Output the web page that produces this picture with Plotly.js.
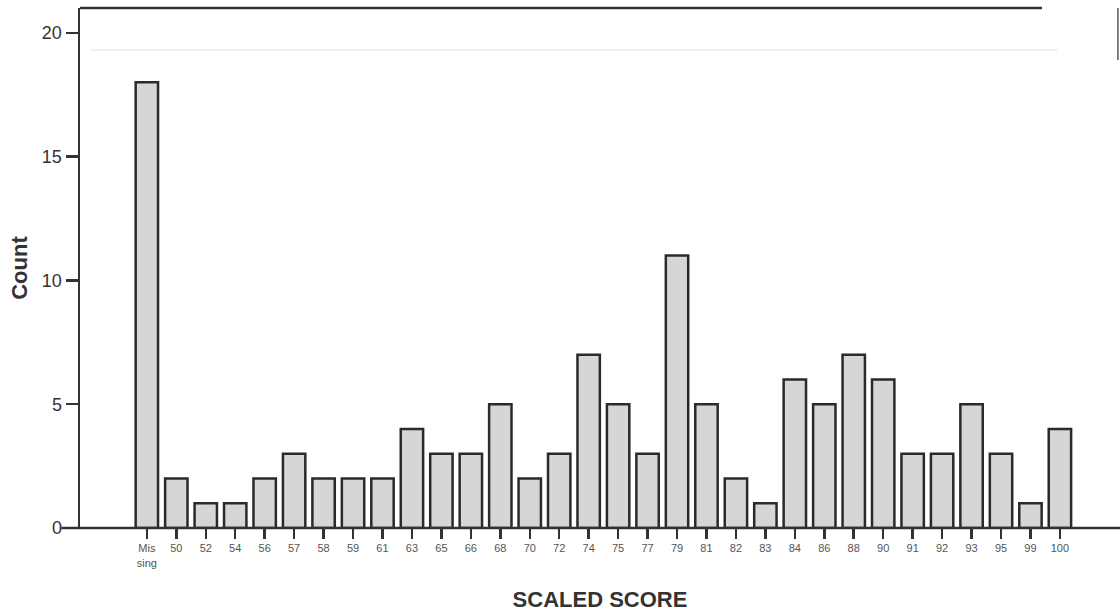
<!DOCTYPE html>
<html>
<head>
<meta charset="utf-8">
<script src="https://cdn.plot.ly/plotly-3.0.1.min.js"></script>
<style>html,body{margin:0;padding:0;background:#fff}#chart{width:1120px;height:616px}</style>
</head>
<body>
<div id="chart"></div>
<script>
const categories = ["Missing","50","52","54","56","57","58","59","61","63","65","66","68","70","72","74","75","77","79","81","82","83","84","86","88","90","91","92","93","95","99","100"];
const tickLabels = ["Mis<br>sing","50","52","54","56","57","58","59","61","63","65","66","68","70","72","74","75","77","79","81","82","83","84","86","88","90","91","92","93","95","99","100"];
const counts = [18,2,1,1,2,3,2,2,2,4,3,3,5,2,3,7,5,3,11,5,2,1,6,5,7,6,3,3,5,3,1,4];
const yTicks = [0,5,10,15,20];

const trace = {
  type: 'bar',
  x: categories,
  y: counts,
  width: 0.76,
  marker: {color: '#d6d6d6', line: {color: '#2a2a2a', width: 2.5}},
  hoverinfo: 'x+y'
};

const layout = {
  width: 1120, height: 616,
  margin: {l: 80, r: 0, t: 8, b: 88},
  paper_bgcolor: '#fff', plot_bgcolor: '#fff',
  showlegend: false,
  font: {family: 'Liberation Sans, Arial, sans-serif', color: '#333'},
  xaxis: {
    type: 'category',
    range: [-2.27, 33.04],
    tickvals: categories,
    ticktext: tickLabels,
    ticks: 'outside', ticklen: 10, tickwidth: 2.5, tickcolor: '#333',
    tickfont: {size: 11, color: '#555'},
    showline: false, showgrid: false, zeroline: false,
    title: {text: '<b>SCALED SCORE</b>', font: {size: 22, color: '#333'}, standoff: 24}
  },
  yaxis: {
    range: [0, 21],
    tickvals: yTicks,
    ticks: 'outside', ticklen: 12, tickwidth: 2.5, tickcolor: '#333',
    tickfont: {size: 18, color: '#333'},
    showline: true, linecolor: '#333', linewidth: 2.5,
    showgrid: false, zeroline: false,
    title: {text: '<b>Count</b>', font: {size: 22, color: '#333'}, standoff: 8}
  },
  shapes: [
    {type: 'line', xref: 'paper', yref: 'paper', x0: -0.018, x1: 1, y0: 0, y1: 0, line: {color: '#333', width: 2.5}},
    {type: 'line', xref: 'paper', yref: 'paper', x0: 0, x1: 0.925, y0: 1, y1: 1, line: {color: '#333', width: 2.5}},
    {type: 'line', xref: 'paper', yref: 'paper', x0: 0.998, x1: 0.998, y0: 1, y1: 0.9, line: {color: '#555', width: 1.5}},
    {type: 'line', xref: 'paper', yref: 'paper', x0: 0.01, x1: 0.94, y0: 0.919, y1: 0.919, line: {color: '#f0f0f0', width: 2}}
  ]
};

Plotly.newPlot('chart', [trace], layout, {displayModeBar: false, staticPlot: true});
</script>
</body>
</html>
